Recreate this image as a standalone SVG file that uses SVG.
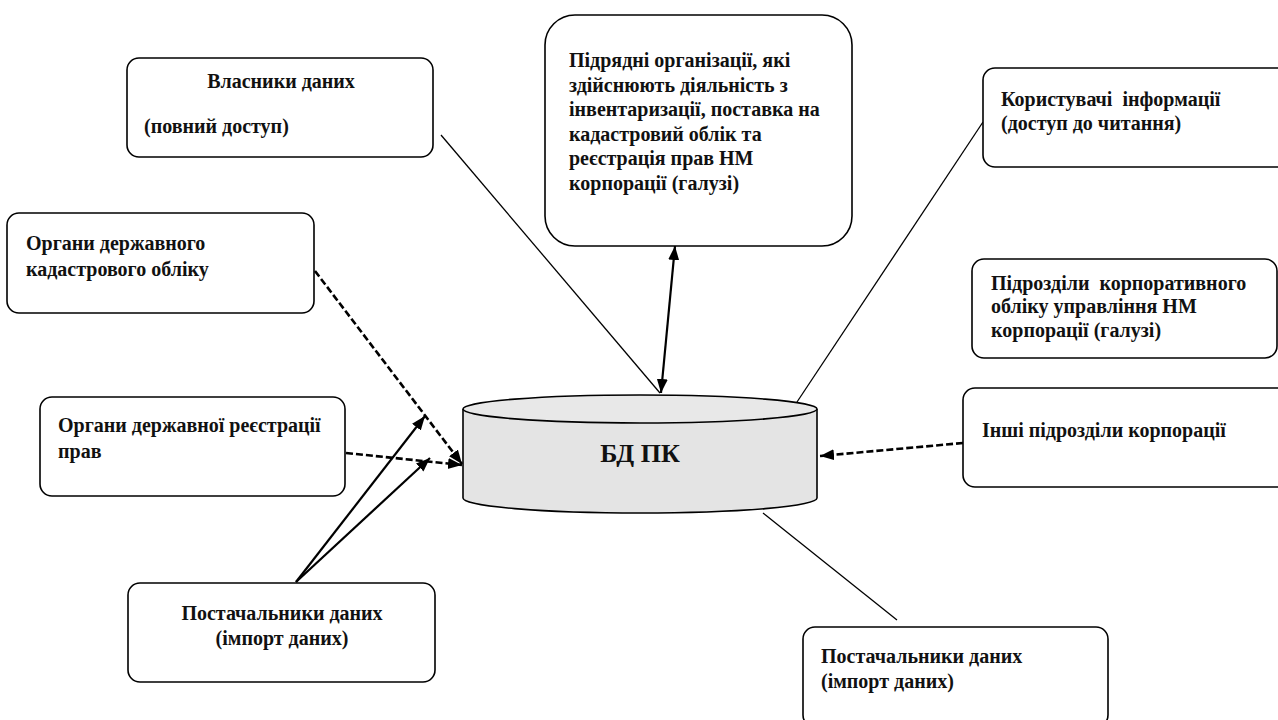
<svg xmlns="http://www.w3.org/2000/svg" width="1278" height="720" viewBox="0 0 1278 720">
<style>
.box{fill:#fff;stroke:#000;stroke-width:1.6}
.t{font-family:"Liberation Serif","Times New Roman",serif;font-weight:bold;font-size:20px;fill:#111}
.thin{stroke:#000;stroke-width:1.3;fill:none}
.arr{stroke:#000;stroke-width:2.2;fill:none}
.dash{stroke:#000;stroke-width:2.6;fill:none;stroke-dasharray:7 3}
</style>
<defs>
<marker id="ah" markerUnits="userSpaceOnUse" markerWidth="15" markerHeight="12" refX="14" refY="5.5" orient="auto-start-reverse">
<path d="M0,0 L14,5.5 L0,11 z" fill="#000"/>
</marker>
</defs>
<rect width="1278" height="720" fill="#fff"/>
<g id="connectors">
<line class="thin" x1="441" y1="135" x2="660" y2="393"/>
<line class="arr" x1="675" y1="246" x2="661" y2="393" marker-start="url(#ah)" marker-end="url(#ah)"/>
<line class="thin" x1="797" y1="402" x2="983" y2="122"/>
<line class="dash" x1="315" y1="271" x2="462" y2="464" marker-end="url(#ah)"/>
<line class="dash" x1="346" y1="453" x2="462" y2="465" marker-end="url(#ah)"/>
<line class="arr" x1="296" y1="582" x2="425" y2="416" marker-end="url(#ah)"/>
<line class="arr" x1="296" y1="582" x2="430" y2="458" marker-end="url(#ah)"/>
<line class="dash" x1="963" y1="443" x2="820" y2="456" marker-end="url(#ah)"/>
<line class="thin" x1="763" y1="513" x2="897" y2="620"/>
</g>
<g id="db">
<path d="M463,409 L463,498 A177,15 0 0 0 817,498 L817,409" fill="#e4e4e4" stroke="#000" stroke-width="1.6"/>
<ellipse cx="640" cy="409" rx="177" ry="14" fill="#e8e8e8" stroke="#000" stroke-width="1.6"/>
<text class="t" x="640" y="462" text-anchor="middle" style="font-size:26px">БД ПК</text>
</g>
<g id="owners">
<rect class="box" x="127" y="58" width="306" height="99" rx="12"/>
<text class="t" x="281" y="88" text-anchor="middle">Власники даних</text>
<text class="t" x="144" y="133">(повний доступ)</text>
</g>
<g id="contractors">
<rect class="box" x="545" y="15" width="307" height="231" rx="30"/>
<text class="t" x="569" y="67">Підрядні організації, які</text>
<text class="t" x="569" y="92">здійснюють діяльність з</text>
<text class="t" x="569" y="116">інвентаризації, поставка на</text>
<text class="t" x="569" y="141">кадастровий облік та</text>
<text class="t" x="569" y="165">реєстрація прав НМ</text>
<text class="t" x="569" y="190">корпорації (галузі)</text>
</g>
<g id="users">
<rect class="box" x="983" y="68" width="320" height="99" rx="12"/>
<text class="t" x="1001" y="106" xml:space="preserve">Користувачі  інформації</text>
<text class="t" x="1001" y="130">(доступ до читання)</text>
</g>
<g id="cadastre">
<rect class="box" x="7" y="213" width="307" height="100" rx="12"/>
<text class="t" x="26" y="250">Органи державного</text>
<text class="t" x="26" y="276">кадастрового обліку</text>
</g>
<g id="corp-units">
<rect class="box" x="972" y="259" width="305" height="99" rx="12"/>
<text class="t" x="991" y="290" xml:space="preserve">Підрозділи  корпоративного</text>
<text class="t" x="991" y="313">обліку управління НМ</text>
<text class="t" x="991" y="337">корпорації (галузі)</text>
</g>
<g id="registration">
<rect class="box" x="40" y="397" width="305" height="99" rx="12"/>
<text class="t" x="58" y="432">Органи державної реєстрації</text>
<text class="t" x="58" y="458">прав</text>
</g>
<g id="other-units">
<rect class="box" x="963" y="388" width="330" height="99" rx="12"/>
<text class="t" x="982" y="437">Інші підрозділи корпорації</text>
</g>
<g id="suppliers-left">
<rect class="box" x="128" y="583" width="307" height="99" rx="12"/>
<text class="t" x="282" y="620" text-anchor="middle">Постачальники даних</text>
<text class="t" x="282" y="645" text-anchor="middle">(імпорт даних)</text>
</g>
<g id="suppliers-right">
<rect class="box" x="803" y="627" width="305" height="100" rx="12"/>
<text class="t" x="821" y="663">Постачальники даних</text>
<text class="t" x="821" y="688">(імпорт даних)</text>
</g>
</svg>
